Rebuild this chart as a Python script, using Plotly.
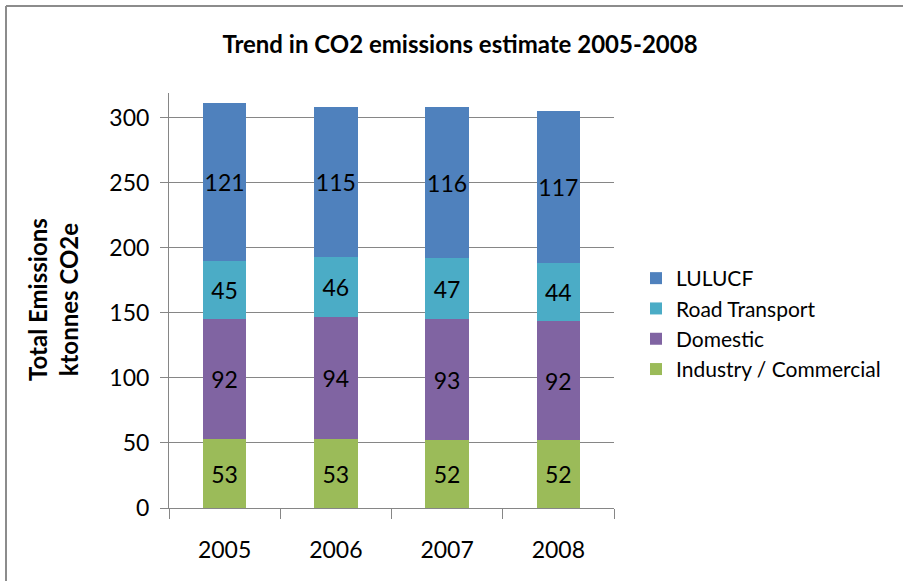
import plotly.graph_objects as go

years = ["2005", "2006", "2007", "2008"]
industry = [53, 53, 52, 52]
domestic = [92, 94, 93, 92]
road = [45, 46, 47, 44]
lulucf = [121, 115, 116, 117]

series = [
    ("Industry / Commercial", industry, "#9BBB59"),
    ("Domestic", domestic, "#8064A2"),
    ("Road Transport", road, "#4BACC6"),
    ("LULUCF", lulucf, "#4F81BD"),
]

FONT = "Lato, 'Open Sans', sans-serif"
W, H = 903, 581
L, R, T, B = 169, 903 - 614, 93, 581 - 508
pw = W - L - R
ph = H - T - B

fig = go.Figure()
for name, vals, col in series:
    fig.add_trace(go.Bar(
        x=years, y=vals, name=name,
        marker=dict(color=col, line=dict(width=0)),
        text=[str(v) for v in vals],
        textposition="inside", insidetextanchor="middle",
        textangle=0, constraintext="none",
        textfont=dict(family=FONT, size=23, color="#000000"),
    ))

def px_x(px):
    return (px - L) / pw

def px_y(py):
    return (H - B - py) / ph

fig.update_layout(
    width=W, height=H,
    margin=dict(l=L, r=R, t=T, b=B),
    barmode="stack", bargap=0.61,
    plot_bgcolor="white", paper_bgcolor="white",
    font=dict(family=FONT, size=23, color="#000000"),
    title=dict(text="<b>Trend in CO2 emissions estimate 2005-2008</b>",
               x=460 / W, xanchor="center", y=1 - 45 / H, yanchor="middle",
               font=dict(family=FONT, size=24, color="#000000")),
    showlegend=True,
    legend=dict(traceorder="reversed", x=px_x(636), xanchor="left",
                y=px_y(324), yanchor="middle",
                font=dict(family=FONT, size=21, color="#000000"),
                itemwidth=30, tracegroupgap=0, bgcolor="rgba(0,0,0,0)"),
    xaxis=dict(showline=True, linecolor="#868686", linewidth=1,
               ticks="outside", tickson="boundaries", ticklen=10,
               tickcolor="#868686", ticklabelstandoff=21,
               tickfont=dict(family=FONT, size=23, color="#000000"),
               showgrid=False),
    yaxis=dict(range=[0, 319], tickvals=[0, 50, 100, 150, 200, 250, 300],
               showline=True, linecolor="#868686", linewidth=1,
               ticks="outside", ticklen=8, tickcolor="#868686",
               ticklabelstandoff=6,
               showgrid=True, gridcolor="#868686", gridwidth=1,
               zeroline=False,
               tickfont=dict(family=FONT, size=23, color="#000000")),
    annotations=[dict(text="<b>Total Emissions<br>ktonnes CO2e</b>",
                      xref="paper", yref="paper",
                      x=px_x(53), y=px_y(300), xanchor="center", yanchor="middle",
                      textangle=-90, showarrow=False,
                      font=dict(family=FONT, size=24, color="#000000"))],
    shapes=[
        dict(type="line", xref="paper", yref="paper",
             x0=px_x(6), x1=px_x(910), y0=px_y(6), y1=px_y(6),
             line=dict(color="#8c8c8c", width=2)),
        dict(type="line", xref="paper", yref="paper",
             x0=px_x(6), x1=px_x(6), y0=px_y(6), y1=px_y(600),
             line=dict(color="#8c8c8c", width=2)),
    ],
)

fig.write_html("out.html")
